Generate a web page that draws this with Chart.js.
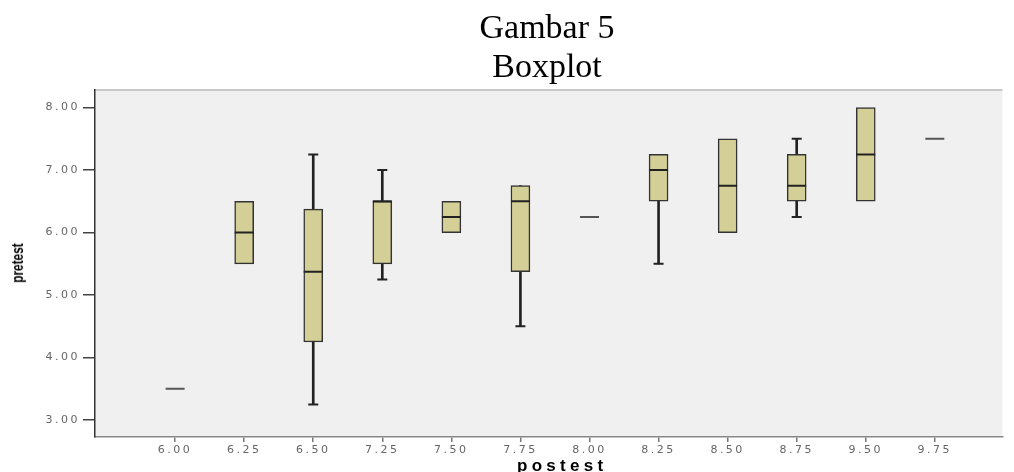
<!DOCTYPE html>
<html lang="id">
<head>
    <meta charset="UTF-8">
    <title>Gambar 5 Boxplot</title>
    <script src="https://cdn.jsdelivr.net/npm/chart.js@4.4.0/dist/chart.umd.min.js"></script>
    <style>
        body { margin: 0; background: #fff; }
        #wrap { position: relative; width: 1014px; height: 472px; overflow: hidden; }
        #title { position: absolute; left: 447px; top: 7px; width: 200px; text-align: center;
                 font-family: "Liberation Serif", serif; font-size: 34px; line-height: 39px; color: #000; }
        #ylab { position: absolute; left: 18px; top: 263px; font-family: "Liberation Sans", Arial, sans-serif;
                font-weight: bold; font-size: 16px; line-height: 16px; color: #000; white-space: nowrap;
                transform: translate(-50%, -50%) rotate(-90deg) scaleX(0.74); }
        #xlab { position: absolute; left: 517px; top: 457px; font-family: "Liberation Sans", Arial, sans-serif;
                font-weight: bold; font-size: 17px; line-height: 17px; letter-spacing: 4.3px; color: #000; }
        canvas { position: absolute; left: 0; top: 0; }
    </style>
</head>
<body>
<div id="wrap">
    <canvas id="chart" width="1014" height="472"></canvas>
    <div id="title">Gambar 5<br>Boxplot</div>
    <div id="ylab">pretest</div>
    <div id="xlab">postest</div>
</div>
<script>
    // postest groups and pretest box statistics
    const labels = ['6.00', '6.25', '6.50', '7.25', '7.50', '7.75', '8.00', '8.25', '8.50', '8.75', '9.50', '9.75'];
    const whiskerLow  = [null, null, 3.25, 5.25, null, 4.5, null, 5.5, null, 6.25, null, null];
    const q1          = [null, 5.5, 4.25, 5.5, 6.0, 5.375, null, 6.5, 6.0, 6.5, 6.5, null];
    const median      = [3.5, 6.0, 5.375, 6.5, 6.25, 6.5, 6.25, 7.0, 6.75, 6.75, 7.25, 7.5];
    const q3          = [null, 6.5, 6.375, 6.5, 6.5, 6.75, null, 7.25, 7.5, 7.25, 8.0, null];
    const whiskerHigh = [null, null, 7.25, 7.0, null, null, null, null, null, 7.5, null, null];
    const yTicks = [3, 4, 5, 6, 7, 8];

    const boxData = [], stemData = [], capData = [], medianData = [];
    labels.forEach(function(l, i) {
        if (q1[i] !== null) boxData.push({ x: i, y: [q1[i], q3[i]] });
        if (whiskerLow[i] !== null || whiskerHigh[i] !== null) {
            const lo = whiskerLow[i] !== null ? whiskerLow[i] : q1[i];
            const hi = whiskerHigh[i] !== null ? whiskerHigh[i] : q3[i];
            stemData.push({ x: i, y: [lo, hi] });
        }
        if (whiskerLow[i] !== null) capData.push({ x: i, y: whiskerLow[i] });
        if (whiskerHigh[i] !== null) capData.push({ x: i, y: whiskerHigh[i] });
        medianData.push({ x: i, y: median[i], single: q1[i] === null });
    });

    const plotBackground = {
        id: 'plotBackground',
        beforeDraw(chart) {
            const ctx = chart.ctx, a = chart.chartArea;
            ctx.save();
            ctx.fillStyle = '#f0f0f0';
            ctx.fillRect(a.left, a.top, a.right - a.left, a.bottom - a.top);
            ctx.strokeStyle = '#c8c8c8';
            ctx.lineWidth = 2;
            ctx.beginPath();
            ctx.moveTo(a.left, a.top);
            ctx.lineTo(a.right, a.top);
            ctx.stroke();
            ctx.restore();
            // tick labels in the picture are wide and spaced out
            ctx.letterSpacing = '2.5px';
        },
        afterDraw(chart) {
            chart.ctx.letterSpacing = '0px';
        }
    };

    new Chart(document.getElementById('chart'), {
        type: 'bar',
        data: {
            datasets: [
                {
                    type: 'line',
                    data: medianData,
                    showLine: false,
                    pointStyle: 'line',
                    pointRadius: 9.5,
                    pointBorderWidth: 2,
                    pointBorderColor: function(c) { return c.raw && c.raw.single ? '#555' : '#222'; },
                    order: 1
                },
                {
                    type: 'line',
                    data: capData,
                    showLine: false,
                    pointStyle: 'line',
                    pointRadius: 5,
                    pointBorderWidth: 2,
                    pointBorderColor: '#222',
                    order: 2
                },
                {
                    data: boxData,
                    grouped: false,
                    barThickness: 19,
                    backgroundColor: '#d4cf96',
                    borderColor: '#333',
                    borderWidth: 1.5,
                    borderSkipped: false,
                    order: 3
                },
                {
                    data: stemData,
                    grouped: false,
                    barThickness: 2,
                    backgroundColor: '#222',
                    borderWidth: 0,
                    order: 4
                }
            ]
        },
        options: {
            responsive: false,
            animation: false,
            layout: { padding: { top: 90, right: 0, left: 0, bottom: 0 } },
            plugins: { legend: { display: false }, tooltip: { enabled: false } },
            scales: {
                x: {
                    type: 'linear',
                    offset: false,
                    min: -1.16,
                    max: 11.98,
                    afterBuildTicks: function(scale) {
                        scale.ticks = labels.map(function(l, i) { return { value: i }; });
                    },
                    afterFit: function(scale) { scale.height = 35; },
                    ticks: {
                        autoSkip: false,
                        maxRotation: 0,
                        padding: 2,
                        color: '#666',
                        font: { family: 'DejaVu Sans', size: 11 },
                        callback: function(v) { return labels[v]; }
                    },
                    grid: { offset: false, drawOnChartArea: false, tickLength: 5, color: '#777', lineWidth: 1.5 },
                    border: { color: '#888', width: 1.5 }
                },
                y: {
                    min: 2.73,
                    max: 8.28,
                    afterBuildTicks: function(scale) {
                        scale.ticks = yTicks.map(function(v) { return { value: v }; });
                    },
                    afterFit: function(scale) { scale.width = 95; },
                    ticks: {
                        padding: 3,
                        color: '#666',
                        font: { family: 'DejaVu Sans', size: 11 },
                        callback: function(v) { return v.toFixed(2); }
                    },
                    grid: { drawOnChartArea: false, tickLength: 12, color: '#444', lineWidth: 1.5 },
                    border: { color: '#333', width: 1.5 }
                }
            }
        },
        plugins: [plotBackground]
    });
</script>
</body>
</html>
